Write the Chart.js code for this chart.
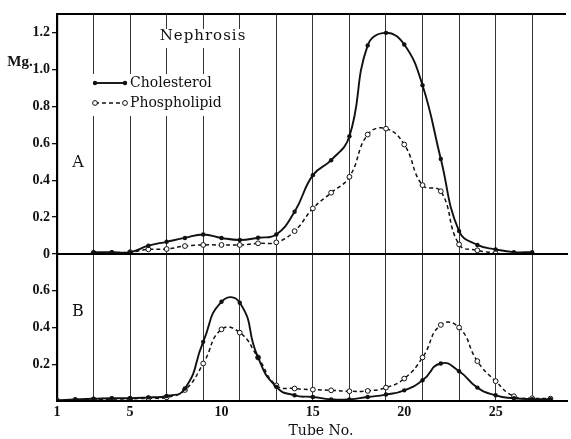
<!DOCTYPE html>
<html><head><meta charset="utf-8">
<script src="https://cdn.jsdelivr.net/npm/chart.js@4.4.1/dist/chart.umd.min.js"></script>
<style>html,body{margin:0;padding:0;background:#fff}#wrap{width:571px;height:439px;position:relative}canvas{display:block}</style>
</head><body><div id="wrap"><canvas id="c" width="571" height="439"></canvas></div>
<script>
// Tube numbers (x)
const tubes = [1,2,3,4,5,6,7,8,9,10,11,12,13,14,15,16,17,18,19,20,21,22,23,24,25,26,27,28];
// Panel A (Nephrosis) - mg
const cholA = [null,null,0.01,0.01,0.01,0.045,0.066,0.087,0.106,0.087,0.076,0.088,0.106,0.229,0.427,0.508,0.638,1.13,1.198,1.135,0.914,0.515,0.124,0.049,0.025,0.01,0.01,null];
const phosA = [null,null,0.005,0.005,0.01,0.025,0.027,0.043,0.049,0.049,0.049,0.058,0.063,0.124,0.247,0.332,0.418,0.647,0.679,0.593,0.373,0.34,0.052,0.02,0.005,null,null,null];
// Panel B - mg
const cholB = [0.003,0.009,0.012,0.015,0.015,0.02,0.027,0.068,0.322,0.54,0.535,0.237,0.077,0.031,0.022,0.009,0.009,0.022,0.035,0.058,0.113,0.204,0.162,0.073,0.031,0.015,0.01,0.01];
const phosB = [0.003,0.005,0.008,0.01,0.012,0.015,0.02,0.06,0.204,0.39,0.372,0.237,0.085,0.068,0.062,0.058,0.053,0.055,0.073,0.122,0.237,0.414,0.4,0.217,0.108,0.026,0.015,0.013];
// Tick labels
const xTickLabels = [1,5,10,15,20,25];
const xGridTubes = [3,5,7,9,11,13,15,17,19,21,23,25,27];
const yATicks = [0,0.2,0.4,0.6,0.8,1.0,1.2];
const yATickLabels = ['0','0.2','0.4','0.6','0.8','1.0','1.2'];
const yBTicks = [0.2,0.4,0.6];
const yBTickLabels = ['0.2','0.4','0.6'];
const seriesNames = ['Cholesterol','Phospholipid'];

const pts = arr => tubes.map((t,i)=>({x:t,y:arr[i]}));
const tickFont = {family:'Liberation Serif', size:14, weight:'bold'};

const solidStyle = {borderColor:'#111', borderWidth:1.9, pointRadius:2.2, pointBackgroundColor:'#111', pointBorderColor:'#111', pointBorderWidth:0, tension:0.45, fill:false};
const dashStyle = {borderColor:'#111', borderWidth:1.5, borderDash:[4,3], pointRadius:2.4, pointBackgroundColor:'#fff', pointBorderColor:'#111', pointBorderWidth:1, tension:0.45, fill:false};

const deco = {
  id:'deco',
  beforeDatasetsDraw(chart){
    const ctx = chart.ctx;
    ctx.save();
    ctx.fillStyle = '#fff';
    ctx.fillRect(150,29,108,19);
    ctx.fillRect(87,74,150,42);
    ctx.restore();
  },
  afterDraw(chart){
    const ctx = chart.ctx, a = chart.chartArea;
    const yA = chart.scales.yA;
    ctx.save();
    ctx.strokeStyle = '#000';
    ctx.lineWidth = 2.2;
    ctx.beginPath();
    ctx.moveTo(a.left-1, a.top); ctx.lineTo(a.right, a.top);
    ctx.moveTo(a.left-1, yA.bottom); ctx.lineTo(a.right+2, yA.bottom);
    ctx.moveTo(a.left-1, a.bottom); ctx.lineTo(a.right+2, a.bottom);
    ctx.stroke();
    ctx.fillStyle = '#111';
    ctx.textBaseline = 'middle';
    ctx.textAlign = 'center';
    ctx.font = 'bold 15px "Liberation Serif"';
    ctx.fillText('Mg.', 20, 62);
    ctx.font = '16px "DejaVu Serif"';
    ctx.fillText('A', 78, 163);
    ctx.fillText('B', 78, 312);
    ctx.font = '14px "DejaVu Serif"';
    ctx.fillText('Tube No.', 321, 431);
    ctx.letterSpacing = '1px';
    ctx.font = '15px "DejaVu Serif"';
    ctx.fillText('Nephrosis', 203, 36);
    ctx.letterSpacing = '0px';
    // legend
    ctx.textAlign = 'left';
    ctx.font = '14px "DejaVu Serif"';
    const rows = [{y:83, style:solidStyle, name:seriesNames[0]},{y:103, style:dashStyle, name:seriesNames[1]}];
    rows.forEach(r=>{
      ctx.strokeStyle = '#111';
      ctx.lineWidth = r.style.borderWidth;
      ctx.setLineDash(r.style.borderDash || []);
      ctx.beginPath(); ctx.moveTo(95,r.y); ctx.lineTo(125,r.y); ctx.stroke();
      ctx.setLineDash([]);
      [95,125].forEach(px=>{
        ctx.beginPath(); ctx.arc(px,r.y,r.style.pointRadius,0,Math.PI*2);
        ctx.fillStyle = r.style.pointBackgroundColor; ctx.fill();
        if (r.style.pointBorderWidth){ctx.lineWidth=1; ctx.stroke();}
      });
      ctx.fillStyle = '#111';
      ctx.fillText(r.name, 130, r.y);
    });
    ctx.restore();
  }
};

new Chart(document.getElementById('c'), {
  type:'line',
  data:{datasets:[
    Object.assign({label:seriesNames[0]+' A', data:pts(cholA), yAxisID:'yA'}, solidStyle),
    Object.assign({label:seriesNames[1]+' A', data:pts(phosA), yAxisID:'yA'}, dashStyle),
    Object.assign({label:seriesNames[0]+' B', data:pts(cholB), yAxisID:'yB'}, solidStyle, {tension:0.55}),
    Object.assign({label:seriesNames[1]+' B', data:pts(phosB), yAxisID:'yB'}, dashStyle, {tension:0.5})
  ]},
  options:{
    responsive:false, animation:false, devicePixelRatio:1,
    layout:{padding:{top:14,right:2,left:0,bottom:0}},
    plugins:{legend:{display:false}, tooltip:{enabled:false}},
    scales:{
      x:{type:'linear', min:1, max:28.85,
        afterBuildTicks: s => { s.ticks = tubes.map(v=>({value:v})); },
        afterFit: s => { s.height = 38; },
        ticks:{autoSkip:false, maxRotation:0, padding:3, color:'#111', font:tickFont,
          callback: v => xTickLabels.includes(v) ? String(v) : ''},
        grid:{drawTicks:false, lineWidth:1,
          color: c => (c.tick && xGridTubes.includes(c.tick.value)) ? '#333' : 'rgba(0,0,0,0)'},
        border:{display:true, color:'#000', width:2}
      },
      yB:{type:'linear', position:'left', stack:'v', stackWeight:147, min:0, max:0.8, offset:false,
        afterBuildTicks: s => { s.ticks = yBTicks.map(v=>({value:v})); },
        afterFit: s => { s.width = 57; },
        ticks:{padding:2, color:'#111', font:tickFont, callback:(v,i)=> yBTickLabels[i]},
        grid:{drawOnChartArea:false, drawTicks:true, tickLength:5, tickColor:'#111', lineWidth:1.3},
        border:{display:true, color:'#000', width:2.2}
      },
      yA:{type:'linear', position:'left', stack:'v', stackWeight:240, min:0, max:1.3, offset:false,
        afterBuildTicks: s => { s.ticks = yATicks.map(v=>({value:v})); },
        afterFit: s => { s.width = 57; },
        ticks:{padding:2, color:'#111', font:tickFont, callback:(v,i)=> yATickLabels[i]},
        grid:{drawOnChartArea:false, drawTicks:true, tickLength:5, tickColor:'#111', lineWidth:1.3},
        border:{display:true, color:'#000', width:2.2}
      }
    }
  },
  plugins:[deco]
});
</script>
</body></html>
